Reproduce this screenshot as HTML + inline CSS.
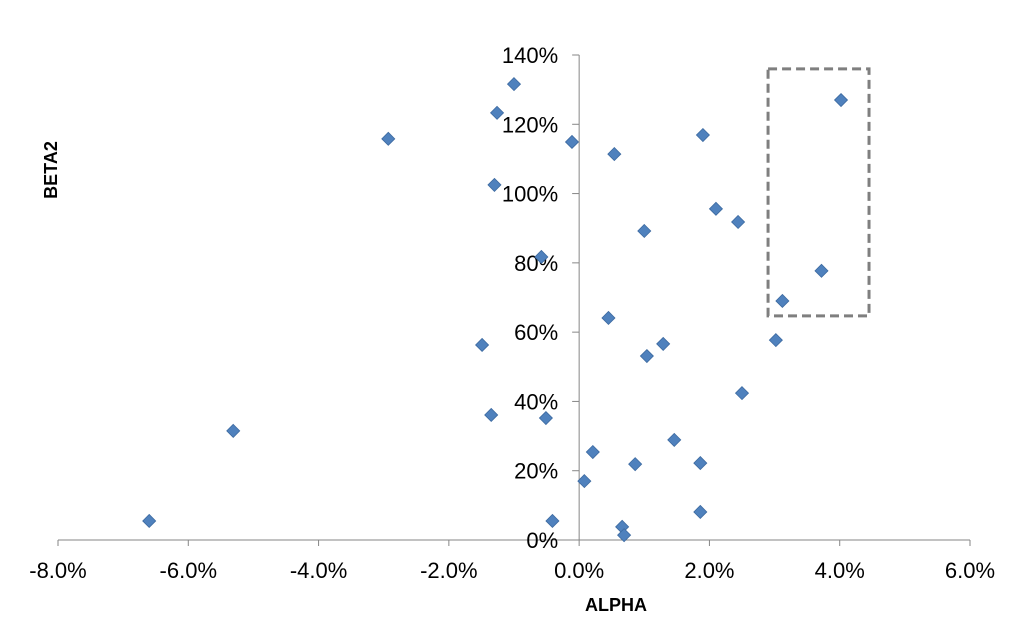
<!DOCTYPE html>
<html><head><meta charset="utf-8"><style>
body{margin:0;background:#fff}
svg{display:block;font-family:"Liberation Sans",Arial,sans-serif}
</style></head><body>
<svg id="chart" width="1024" height="617" viewBox="0 0 1024 617">
<g id="axes"></g>
<g id="marks"></g>
<text x="616" y="611" text-anchor="middle" font-size="18" font-weight="bold">ALPHA</text>
<text transform="translate(57,170) rotate(-90)" text-anchor="middle" font-size="18" font-weight="bold">BETA2</text>
</svg>
<script>
const alphaValues=[-6.6,-5.31,-2.93,-1.0,-1.26,-0.11,-1.3,-0.58,-1.49,-1.35,-0.51,-0.41,0.54,1.9,2.1,2.44,1.0,0.45,1.29,1.04,3.02,3.12,3.72,4.02,2.5,1.46,0.21,0.86,1.86,0.08,1.86,0.66,0.69];
const betaValues=[5.5,31.5,115.8,131.6,123.3,114.9,102.5,81.7,56.3,36.1,35.2,5.5,111.4,116.9,95.6,91.8,89.2,64.1,56.6,53.1,57.7,69.0,77.7,127.0,42.4,28.9,25.4,21.9,22.2,17.0,8.1,3.8,1.4];
const xTicks=[-8,-6,-4,-2,0,2,4,6];
const yTicks=[0,20,40,60,80,100,120,140];
const boxRange={x0:2.9,x1:4.45,y0:64.7,y1:136};
const NS="http://www.w3.org/2000/svg";
const X=v=>58+(v+8)*(912/14);
const Y=v=>540-v*(485/140);
function mk(t,a,p){const e=document.createElementNS(NS,t);for(const k in a)e.setAttribute(k,a[k]);p.appendChild(e);return e;}
const ax=document.getElementById('axes'),mg=document.getElementById('marks');
let l=mk('line',{x1:X(-8),x2:X(6),y1:Y(0),y2:Y(0),stroke:'#868686','stroke-width':1},ax);

l=mk('line',{x1:X(0),x2:X(0),y1:Y(0),y2:Y(140),stroke:'#868686','stroke-width':1},ax);

xTicks.forEach(t=>{
 const tk=mk('line',{x1:X(t),x2:X(t),y1:Y(0),y2:Y(0)+6,stroke:'#868686'},ax);
 
 const tx=mk('text',{x:X(t),y:578,'text-anchor':'middle','font-size':22},ax);tx.textContent=t.toFixed(1)+'%';
 
});
yTicks.forEach(t=>{
 const tk=mk('line',{x1:X(0)-7,x2:X(0),y1:Y(t),y2:Y(t),stroke:'#868686'},ax);
 
 const tx=mk('text',{x:X(0)-21,y:Y(t)+8,'text-anchor':'end','font-size':22},ax);tx.textContent=t+'%';
 
});
alphaValues.forEach((a,i)=>{
 const cx=X(a),cy=Y(betaValues[i]),s=6.5;
 const p=mk('polygon',{points:`${cx},${cy-s} ${cx+s},${cy} ${cx},${cy+s} ${cx-s},${cy}`,fill:'#4f81bd',stroke:'#3d6aa0','stroke-width':0.8},mg);
 
});
const r=mk('rect',{x:X(boxRange.x0),y:Y(boxRange.y1),width:X(boxRange.x1)-X(boxRange.x0),height:Y(boxRange.y0)-Y(boxRange.y1),fill:'none',stroke:'#7f7f7f','stroke-width':3,'stroke-dasharray':'9,5'},mg);

</script>
</body></html>
